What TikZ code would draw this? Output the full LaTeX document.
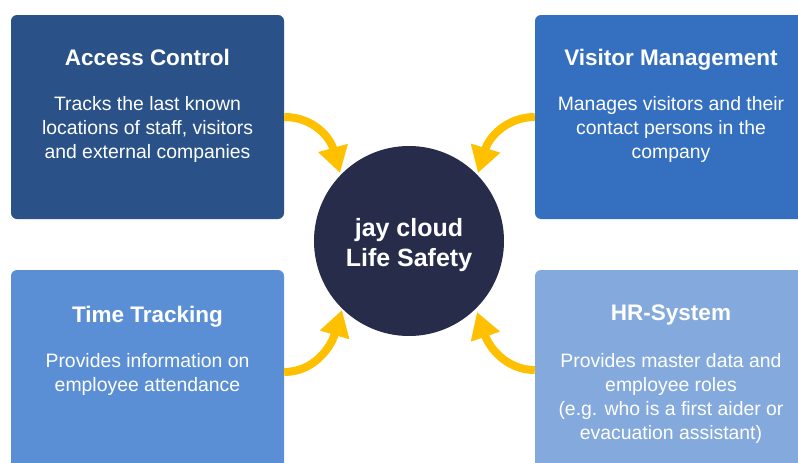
\documentclass[tikz,border=0pt]{standalone}
\usepackage{fontspec}
\setmainfont{Liberation Sans}
\usetikzlibrary{arrows.meta}
\definecolor{boxA}{HTML}{2A5289}
\definecolor{boxB}{HTML}{3470BF}
\definecolor{boxC}{HTML}{5B8FD5}
\definecolor{boxD}{HTML}{84AADD}
\definecolor{hubcol}{HTML}{262C4A}
\definecolor{arrowcol}{HTML}{FFC000}
\tikzset{
  card/.style={rectangle, rounded corners=6pt, minimum width=273pt, minimum height=204pt, inner sep=0pt, draw=none},
  cardtitle/.style={anchor=base, text=white, font=\fontsize{22.5}{26}\selectfont\bfseries, inner sep=0pt},
  cardbody/.style={anchor=center, text=white, align=center, font=\fontsize{19.4}{24}\selectfont, inner sep=0pt},
  feed/.style={draw=arrowcol, line width=8pt, -{Triangle[width=29pt,length=26pt]}}
}
\begin{document}
\begin{tikzpicture}[x=1pt,y=-1pt]
\useasboundingbox (0,0) rectangle (798,463);
\clip (0,0) rectangle (798,463);
\fill[white] (0,0) rectangle (798,463);
% cards
\node[card, fill=boxA] (ac) at (147.5,117) {};
\node[card, fill=boxB] (vm) at (671.5,117) {};
\node[card, fill=boxC] (tt) at (147.5,372) {};
\node[card, fill=boxD] (hr) at (671.5,372) {};
% hub
\node[circle, fill=hubcol, minimum size=190pt, inner sep=0pt] (hub) at (409,241) {};
\node[text=white, align=center, font=\fontsize{25}{30}\selectfont\bfseries, inner sep=0pt] (hubtext) at (409,245) {jay cloud\\Life Safety};
% titles
\node[cardtitle] (actitle) at (147.5,65) {Access Control};
\node[cardtitle] (vmtitle) at (671,65) {Visitor Management};
\node[cardtitle] (tttitle) at (147.5,322) {Time Tracking};
\node[cardtitle] (hrtitle) at (671,320) {HR-System};
% bodies
\node[cardbody] (acbody) at (147.5,129) {Tracks the last known\\locations of staff, visitors\\and external companies};
\node[cardbody] (vmbody) at (671,129) {Manages visitors and their\\contact persons in the\\company};
\node[cardbody] (ttbody) at (147.5,374) {Provides information on\\employee attendance};
\node[cardbody] (hrbody) at (671,398) {Provides master data and\\employee roles\\(e.g. who is a first aider or\\evacuation assistant)};
% arrow anchors
\coordinate (a1) at (ac.east |- 0,117);
\coordinate (a2) at (vm.west |- 0,117);
\coordinate (a3) at (tt.east |- 0,372);
\coordinate (a4) at (hr.west |- 0,370);
\coordinate (t1) at (340,173);
\coordinate (t2) at (478,173);
\coordinate (t3) at (342,310);
\coordinate (t4) at (477,312);
\draw[feed] (a1) .. controls (313,117) and (330,137) .. (t1);
\draw[feed] (a2) .. controls (507,117) and (489,137) .. (t2);
\draw[feed] (a3) .. controls (314,372) and (331,347) .. (t3);
\draw[feed] (a4) .. controls (506,370) and (489,347) .. (t4);
\end{tikzpicture}
\end{document}
